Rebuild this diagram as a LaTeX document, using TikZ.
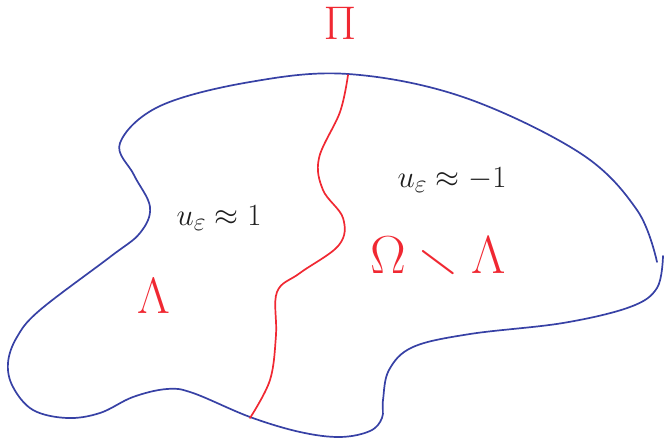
\documentclass[tikz,border=0pt]{standalone}
\usepackage{graphicx}
\usepackage{amsmath,amssymb}
\begin{document}
\begin{tikzpicture}[x=1pt,y=-1pt,
  blueline/.style={draw={rgb,255:red,55;green,65;blue,165},line width=1.7pt,line cap=round,line join=round},
  redline/.style={draw={rgb,255:red,240;green,40;blue,50},line width=1.7pt,line cap=round,line join=round},
  blacklabel/.style={text={rgb,255:red,30;green,30;blue,30},inner sep=0pt,font=\Huge},
  redlabel/.style={text={rgb,255:red,240;green,40;blue,50},inner sep=0pt,font=\Huge}]
\useasboundingbox (0,0) rectangle (665,439);
% domain boundary (blue)
\draw[blueline] plot[smooth,tension=0.6] coordinates {
 (663,256) (657,288) (630,307) (563,323) (470,334) (413,347)
 (389,370) (383,400) (382,418) (370,431) (340,437) (300,432) (250,417)
 (193,393) (167,389) (133,397) (100,413) (67,418) (33,410) (13,387)
 (8,363) (17,337) (40,310) (110,257) (140,233) (150,207)
 (134,175) (120,143) (160,106) (250,82) (348,74)
 (463,97) (580,153) (637,210) (657,262)};
% interface (red)
\draw[redline] plot[smooth,tension=0.6] coordinates {
 (348,75) (340,112) (319,158) (323,190) (343,218)
 (339,245) (300,273) (277,292) (276,335) (270,380) (250,418)};
% labels
\node[redlabel] (pi) at (340,23) {\scalebox{1.9}{$\Pi$}};
\node[blacklabel] (uone) at (219,218) {\scalebox{1.24}{$u_\varepsilon \approx 1$}};
\node[blacklabel] (umone) at (452,180) {\scalebox{1.24}{$u_\varepsilon \approx -1$}};
\node[redlabel] (oml) at (438,257) {\scalebox{2.15}{$\Omega\smallsetminus\Lambda$}};
\node[redlabel] (lam) at (154,296) {\scalebox{2.05}{$\Lambda$}};
\end{tikzpicture}
\end{document}
